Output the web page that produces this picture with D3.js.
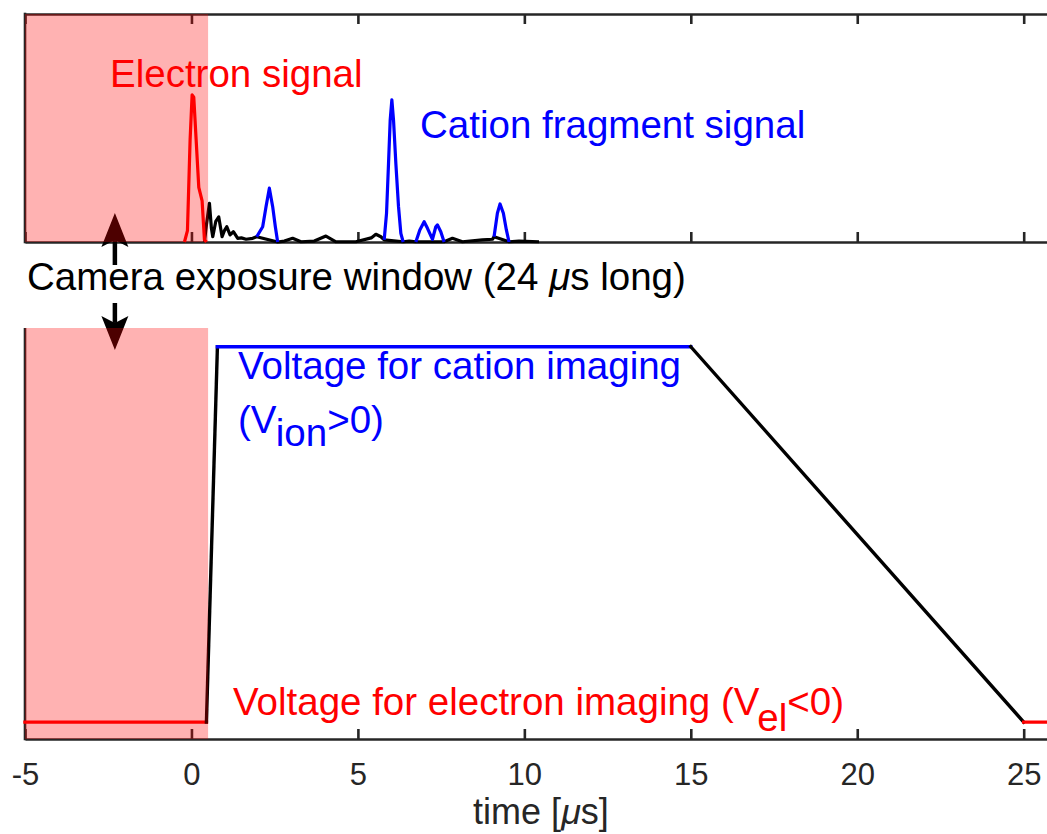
<!DOCTYPE html>
<html>
<head>
<meta charset="utf-8">
<script src="https://cdn.jsdelivr.net/npm/d3@7"></script>
<style>
	body { margin: 0; background: #fff; }
	svg { display: block; font-family: "Liberation Sans", Arial, Helvetica, sans-serif; }
	.axis path, .axis line { stroke: #262626; stroke-width: 2.6; }
	.axis text { fill: #262626; font-size: 31px; font-family: "Liberation Sans", Arial, sans-serif; }
</style>
</head>
<body>
<svg id="chart" width="1047" height="834"></svg>
<script>
// ---- data (time in µs) ----
var xTicks = [-5, 0, 5, 10, 15, 20, 25];
var exposureWindow = [-5, 0.5];

// top panel: normalised detector signal
var electronSignal = [[-0.21, 0], [-0.12, 0.05], [-0.04, 0.45], [0.02, 0.645], [0.07, 0.635], [0.14, 0.45],
	[0.22, 0.24], [0.32, 0.18], [0.39, 0.01], [0.45, 0]];
var backgroundSignal = [[0.39, 0], [0.45, 0.075], [0.54, 0.17], [0.6, 0.06], [0.64, 0.023], [0.73, 0.09], [0.82, 0.11],
	[0.92, 0.023], [0.99, 0.05], [1.06, 0.067], [1.16, 0.031], [1.26, 0.045], [1.39, 0.016], [1.5, 0.018],
	[1.64, 0.012], [1.84, 0.016], [1.96, 0.023], [2.59, 0], [2.79, 0.004], [3.04, 0.016], [3.29, 0.001],
	[3.69, 0.004], [4.04, 0.026], [4.34, 0.001], [4.94, 0.001], [5.4, 0.018], [5.54, 0.034], [5.69, 0.023],
	[5.79, 0.009], [6.36, 0.001], [6.54, 0.004], [6.74, 0.001], [7.59, 0.001], [7.84, 0.016], [8.14, 0.001],
	[8.74, 0.009], [9.04, 0.012], [9.09, 0.023], [9.54, 0.001], [9.84, 0.004], [10.44, 0.001]];
var cationPeak1 = [[1.96, 0.023], [2.14, 0.067], [2.24, 0.155], [2.34, 0.236], [2.44, 0.155], [2.52, 0.067], [2.59, 0]];
var cationPeak2 = [[5.79, 0.009], [5.86, 0.126], [5.92, 0.345], [5.97, 0.535], [6.02, 0.623], [6.07, 0.535],
	[6.14, 0.345], [6.22, 0.155], [6.29, 0.038], [6.36, 0]];
var cationPeak3 = [[6.74, 0], [6.86, 0.053], [6.99, 0.089], [7.09, 0.06], [7.24, 0.012], [7.34, 0.067],
	[7.39, 0.075], [7.49, 0.045], [7.59, 0]];
var cationPeak4 = [[9.09, 0.023], [9.19, 0.126], [9.27, 0.167], [9.37, 0.126], [9.46, 0.053], [9.54, 0]];

// bottom panel: extraction voltage (V_el = -1, V_ion = +1)
var voltageTime = [-5, 0.45, 0.78, 15, 25, 26];
var voltageLevel = [-1, -1, 1, 1, -1, -1];
var voltageColor = ["red", "black", "blue", "black", "red"];

var arrowTime = -2.3;

// ---- layout ----
var svg = d3.select("#chart"),
	W = 1047, H = 834;
var top1 = 14, bot1 = 242,
	top2 = 328, bot2 = 739,
	left = 25;

var x = d3.scaleLinear().domain([-5, 26]).range([left, left + 31 * 33.29]);
var ySig = d3.scaleLinear().domain([0, 1]).range([bot1, top1]);
var yVolt = d3.scaleLinear().domain([-1.09, 1.1]).range([bot2, top2]);

svg.append("rect").attr("width", W).attr("height", H).attr("fill", "white");

/*
axes
*/
var g_ax = svg.append("g");
g_ax.append("g").attr("class", "axis")
	.attr("transform", "translate(0," + bot1 + ")")
	.call(d3.axisBottom(x).tickValues(xTicks).tickSizeInner(-10).tickSizeOuter(0).tickFormat(""));
g_ax.append("g").attr("class", "axis")
	.attr("transform", "translate(0," + top1 + ")")
	.call(d3.axisTop(x).tickValues(xTicks).tickSizeInner(-10).tickSizeOuter(0).tickFormat(""));
g_ax.append("line")
	.attr("x1", left).attr("x2", left).attr("y1", top1 - 1.3).attr("y2", bot1 + 1.3)
	.attr("stroke", "#262626").attr("stroke-width", 2.6);

g_ax.append("g").attr("class", "axis")
	.attr("transform", "translate(0," + bot2 + ")")
	.call(d3.axisBottom(x).tickValues(xTicks).tickSizeInner(-10).tickSizeOuter(0).tickPadding(24)
		.tickFormat(function(d) { return String(d); }));
g_ax.append("line")
	.attr("x1", left).attr("x2", left).attr("y1", top2).attr("y2", bot2 + 1.3)
	.attr("stroke", "#262626").attr("stroke-width", 2.6);

var xl = svg.append("text")
	.attr("x", (x.range()[0] + x.range()[1]) / 2)
	.attr("y", 824)
	.attr("text-anchor", "middle")
	.attr("fill", "#262626")
	.style("font-size", "36px");
xl.append("tspan").text("time [");
xl.append("tspan").style("font-style", "italic").text("\u03bc");
xl.append("tspan").text("s]");

/*
signals
*/
var sigLine = d3.line()
	.x(function(d) { return x(d[0]); })
	.y(function(d) { return ySig(d[1]); });
var g_sig = svg.append("g").attr("fill", "none").attr("stroke-width", 3.2).attr("stroke-linejoin", "round");
g_sig.append("path").datum(backgroundSignal).attr("stroke", "black").attr("d", sigLine);
g_sig.append("path").datum(electronSignal).attr("stroke", "red").attr("d", sigLine);
g_sig.selectAll("path.cation")
	.data([cationPeak1, cationPeak2, cationPeak3, cationPeak4])
	.enter()
	.append("path")
	.attr("class", "cation")
	.attr("stroke", "blue")
	.attr("d", sigLine);

/*
voltage trace
*/
var segs = voltageColor.map(function(c, i) {
	return { color: c, pts: [[voltageTime[i], voltageLevel[i]], [voltageTime[i + 1], voltageLevel[i + 1]]] };
});
var vLine = d3.line()
	.x(function(d) { return x(d[0]); })
	.y(function(d) { return yVolt(d[1]); });
svg.append("g").attr("fill", "none").attr("stroke-width", 3.4).attr("stroke-linecap", "square")
	.selectAll("path")
	.data(segs).enter()
	.append("path")
	.attr("stroke", function(d) { return d.color; })
	.attr("d", function(d) { return vLine(d.pts); });

/*
double arrow for the exposure window
*/
var ax = x(arrowTime);
function arrow(tipY, dir, tailY) {
	var g = svg.append("g").attr("fill", "black");
	var headLen = 34, half = 13.5, notch = 7;
	var baseY = tipY + dir * headLen;
	g.append("line")
		.attr("x1", ax).attr("x2", ax)
		.attr("y1", baseY - dir * notch).attr("y2", tailY)
		.attr("stroke", "black").attr("stroke-width", 4.5);
	g.append("path")
		.attr("d", "M" + ax + "," + tipY +
			"L" + (ax - half) + "," + baseY +
			"L" + ax + "," + (baseY - dir * notch) +
			"L" + (ax + half) + "," + baseY + "Z");
}
arrow(ySig(0.127), 1, 265);
arrow(yVolt(0.983), -1, 303);

/*
exposure window shading
*/
svg.append("g").selectAll("rect")
	.data([[top1, bot1], [top2, bot2]])
	.enter()
	.append("rect")
	.attr("x", x(exposureWindow[0]))
	.attr("width", x(exposureWindow[1]) - x(exposureWindow[0]))
	.attr("y", function(d) { return d[0]; })
	.attr("height", function(d) { return d[1] - d[0]; })
	.attr("fill", "red")
	.attr("fill-opacity", 0.3);

/*
labels
*/
var fs = 38.5;
function label(px, py, color) {
	return svg.append("text").attr("x", px).attr("y", py)
		.attr("fill", color).style("font-size", fs + "px");
}
label(110, 87, "red").text("Electron signal");
label(420, 138, "blue").text("Cation fragment signal");

var cam = label(27, 290, "black");
cam.append("tspan").text("Camera exposure window (24 ");
cam.append("tspan").style("font-style", "italic").text("\u03bc");
cam.append("tspan").text("s long)");

label(238, 379, "blue").text("Voltage for cation imaging");
var vion = label(238, 433, "blue");
vion.append("tspan").text("(V");
vion.append("tspan").attr("dy", 13).text("ion");
vion.append("tspan").attr("dy", -13).text(">0)");

var vel = label(233, 715, "red");
vel.append("tspan").text("Voltage for electron imaging (V");
vel.append("tspan").attr("dy", 16).text("el");
vel.append("tspan").attr("dy", -16).text("<0)");
</script>
</body>
</html>
